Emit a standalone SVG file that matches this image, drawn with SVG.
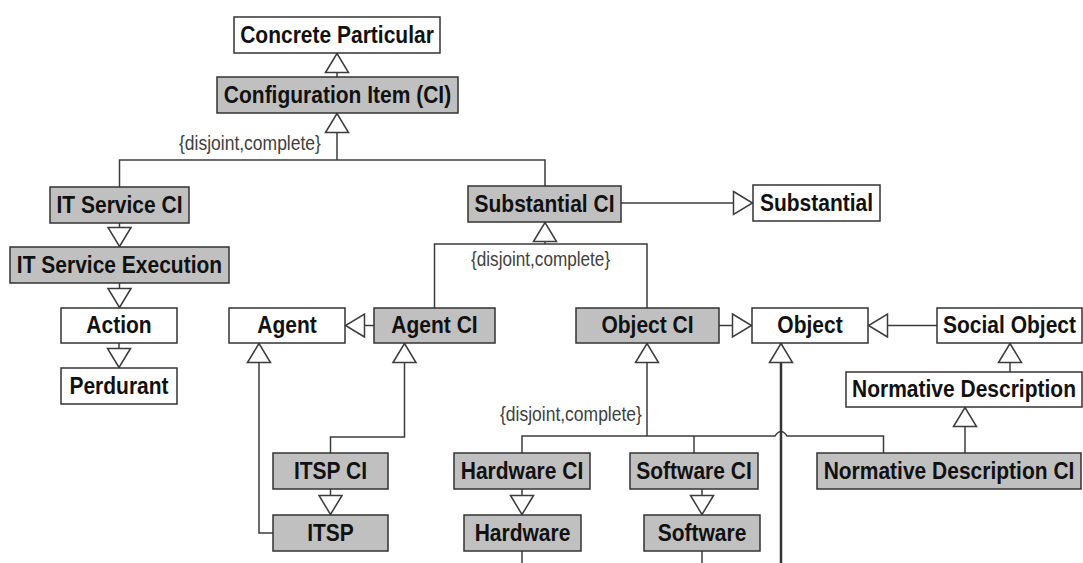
<svg xmlns="http://www.w3.org/2000/svg" width="1083" height="563" viewBox="0 0 1083 563">
  <style>
    .box { stroke: #333333; stroke-width: 1.5; }
    .w { fill: #ffffff; }
    .g { fill: #c0c0c0; }
    .lbl { font-family: "Liberation Sans", Arial, sans-serif; font-weight: bold; font-size: 21px; fill: #111111; text-anchor: middle; }
    .con { fill: none; stroke: #3c3c3c; stroke-width: 1.5; marker-end: url(#gen); }
    .plain { fill: none; stroke: #3c3c3c; stroke-width: 1.5; }
    .thick { fill: none; stroke: #333333; stroke-width: 2.5; marker-end: url(#gen); }
    .cons { font-family: "Liberation Sans", Arial, sans-serif; font-size: 17.5px; fill: #404040; }
  </style>
  <defs>
    <marker id="gen" viewBox="0 0 20 24" markerUnits="userSpaceOnUse" markerWidth="20" markerHeight="24" refX="20" refY="12" orient="auto" overflow="visible">
      <path d="M0.5,0.5 L19.5,12 L0.5,23.5 Z" fill="#ffffff" stroke="#3c3c3c" stroke-width="1.5" stroke-linejoin="miter"/>
    </marker>
  </defs>
  <rect width="1083" height="563" fill="#ffffff"/>

  <g id="connectors">
    <path class="con" d="M337,77 L337,53"/>
    <path class="plain" d="M119.5,187 L119.5,160 L545,160 L545,186"/>
    <path class="con" d="M337,160 L337,113"/>
    <text class="cons" transform="translate(179,150) scale(1,1.11)" x="0" y="0">{disjoint,complete}</text>
    <path class="con" d="M119.5,223 L119.5,247"/>
    <path class="con" d="M119.5,283 L119.5,308"/>
    <path class="con" d="M119,343 L119,368"/>
    <path class="con" d="M621,203 L753,203"/>
    <path class="plain" d="M434.5,308 L434.5,244 L647,244 L647,308"/>
    <path class="con" d="M545,244 L545,222"/>
    <text class="cons" transform="translate(471,266) scale(0.98,1.11)" x="0" y="0">{disjoint,complete}</text>
    <path class="con" d="M374,325.5 L345,325.5"/>
    <path class="con" d="M273,533 L259,533 L259,343"/>
    <path class="con" d="M330.5,453 L330.5,437 L404.5,437 L404.5,343"/>
    <path class="con" d="M330.5,489 L330.5,515"/>
    <path class="con" d="M719,325.5 L752,325.5"/>
    <path class="con" d="M937,325.5 L868,325.5"/>
    <path class="con" d="M1010,372 L1010,343"/>
    <path class="plain" d="M522,453 L522,436 L775,436 Q781,427 787,436 L883.5,436 L883.5,453"/>
    <path class="plain" d="M694,436 L694,453"/>
    <path class="con" d="M647,436 L647,343"/>
    <text class="cons" transform="translate(500,421) scale(1,1.11)" x="0" y="0">{disjoint,complete}</text>
    <path class="con" d="M522,489 L522,515"/>
    <path class="con" d="M702,489 L702,515"/>
    <path class="plain" d="M522,551 L522,563"/>
    <path class="plain" d="M702,551 L702,563"/>
    <path class="thick" d="M781,563 L781,343"/>
    <path class="con" d="M965,453 L965,407"/>
  </g>

  <g id="concrete_particular"><rect class="box w" x="234" y="17" width="206" height="36"/><text class="lbl" transform="translate(337,42.5) scale(1,1.12)" x="0" y="0">Concrete Particular</text></g>
  <g id="configuration_item"><rect class="box g" x="217" y="77" width="241" height="36"/><text class="lbl" transform="translate(337.5,102.5) scale(1,1.12)" x="0" y="0">Configuration Item (CI)</text></g>
  <g id="it_service_ci"><rect class="box g" x="50" y="187" width="139" height="36"/><text class="lbl" transform="translate(119.5,212.5) scale(1,1.12)" x="0" y="0">IT Service CI</text></g>
  <g id="it_service_execution"><rect class="box g" x="10" y="247" width="219" height="36"/><text class="lbl" transform="translate(119.5,272.5) scale(1,1.12)" x="0" y="0">IT Service Execution</text></g>
  <g id="action"><rect class="box w" x="61" y="308" width="116" height="35"/><text class="lbl" transform="translate(119,333) scale(1,1.12)" x="0" y="0">Action</text></g>
  <g id="perdurant"><rect class="box w" x="61" y="368" width="116" height="36"/><text class="lbl" transform="translate(119,393.5) scale(1,1.12)" x="0" y="0">Perdurant</text></g>
  <g id="substantial_ci"><rect class="box g" x="468" y="186" width="153" height="36"/><text class="lbl" transform="translate(544.5,211.5) scale(1,1.12)" x="0" y="0">Substantial CI</text></g>
  <g id="substantial"><rect class="box w" x="753" y="185" width="127" height="36"/><text class="lbl" transform="translate(816.5,210.5) scale(1,1.12)" x="0" y="0">Substantial</text></g>
  <g id="agent"><rect class="box w" x="229" y="308" width="116" height="35"/><text class="lbl" transform="translate(287,333) scale(1,1.12)" x="0" y="0">Agent</text></g>
  <g id="agent_ci"><rect class="box g" x="374" y="308" width="121" height="35"/><text class="lbl" transform="translate(434.5,333) scale(1,1.12)" x="0" y="0">Agent CI</text></g>
  <g id="object_ci"><rect class="box g" x="576" y="308" width="143" height="35"/><text class="lbl" transform="translate(647.5,333) scale(1,1.12)" x="0" y="0">Object CI</text></g>
  <g id="object"><rect class="box w" x="752" y="308" width="116" height="35"/><text class="lbl" transform="translate(810,333) scale(1,1.12)" x="0" y="0">Object</text></g>
  <g id="social_object"><rect class="box w" x="937" y="308" width="145" height="35"/><text class="lbl" transform="translate(1009.5,333) scale(1,1.12)" x="0" y="0">Social Object</text></g>
  <g id="normative_description"><rect class="box w" x="846" y="372" width="236" height="35"/><text class="lbl" transform="translate(964,397) scale(1,1.12)" x="0" y="0">Normative Description</text></g>
  <g id="itsp_ci"><rect class="box g" x="273" y="453" width="115" height="36"/><text class="lbl" transform="translate(330.5,478.5) scale(1,1.12)" x="0" y="0">ITSP CI</text></g>
  <g id="itsp"><rect class="box g" x="273" y="515" width="115" height="36"/><text class="lbl" transform="translate(330.5,540.5) scale(1,1.12)" x="0" y="0">ITSP</text></g>
  <g id="hardware_ci"><rect class="box g" x="454" y="453" width="136" height="36"/><text class="lbl" transform="translate(522,478.5) scale(1,1.12)" x="0" y="0">Hardware CI</text></g>
  <g id="hardware"><rect class="box g" x="464" y="515" width="117" height="36"/><text class="lbl" transform="translate(522.5,540.5) scale(1,1.12)" x="0" y="0">Hardware</text></g>
  <g id="software_ci"><rect class="box g" x="630" y="453" width="128" height="36"/><text class="lbl" transform="translate(694,478.5) scale(1,1.12)" x="0" y="0">Software CI</text></g>
  <g id="software"><rect class="box g" x="644" y="515" width="116" height="36"/><text class="lbl" transform="translate(702,540.5) scale(1,1.12)" x="0" y="0">Software</text></g>
  <g id="normative_description_ci"><rect class="box g" x="817" y="453" width="264" height="36"/><text class="lbl" transform="translate(949,478.5) scale(1,1.12)" x="0" y="0">Normative Description CI</text></g>
</svg>
